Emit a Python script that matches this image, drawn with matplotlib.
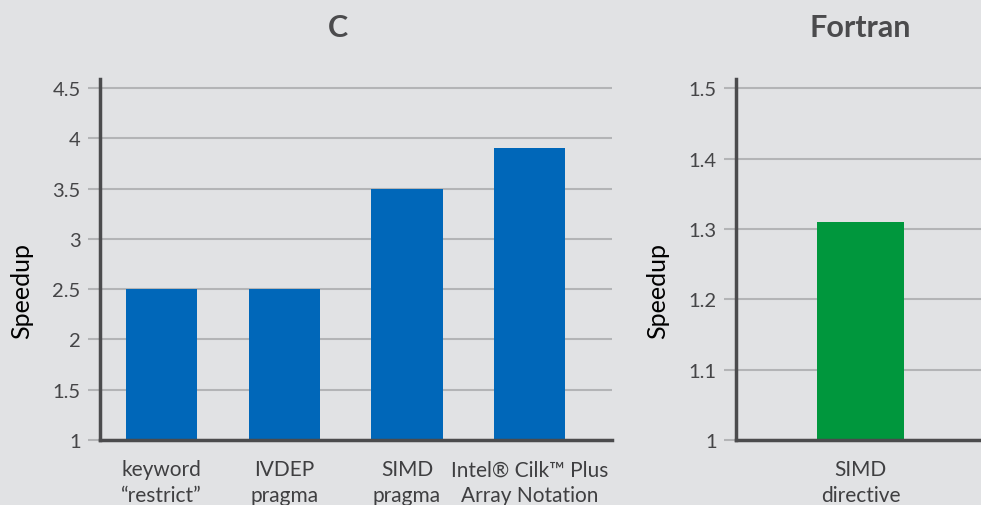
import matplotlib.pyplot as plt

# speedup per vectorization approach
c_methods = ["keyword\n\u201crestrict\u201d", "IVDEP\npragma", "SIMD\npragma",
             "Intel\u00ae Cilk\u2122 Plus\nArray Notation"]
c_speedup = [2.5, 2.5, 3.5, 3.9]
c_ticks = [1, 1.5, 2, 2.5, 3, 3.5, 4, 4.5]

fortran_methods = ["SIMD\ndirective"]
fortran_speedup = [1.31]
fortran_ticks = [1, 1.1, 1.2, 1.3, 1.4, 1.5]

bg = "#e1e2e4"
dark = "#4b4b4d"
grid = "#b3b4b6"
plt.rcParams['font.family'] = ['Lato', 'DejaVu Sans']

fig = plt.figure(figsize=(9.81, 5.06), dpi=100, facecolor=bg)
ax1 = fig.add_axes([0.1019, 0.1285, 0.522, 0.7134])
ax2 = fig.add_axes([0.7503, 0.1285, 0.2538, 0.7134])


def style(ax, ticks, top):
    ax.set_facecolor(bg)
    ax.set_ylim(1, top)
    ax.set_yticks(ticks)
    ax.set_yticklabels([f"{t:g}" for t in ticks])
    ax.yaxis.grid(True, color=grid, linewidth=1.5)
    ax.set_axisbelow(True)
    for s in ("top", "right"):
        ax.spines[s].set_visible(False)
    for s in ("left", "bottom"):
        ax.spines[s].set_color(dark)
        ax.spines[s].set_linewidth(2.5)
    ax.tick_params(axis="y", length=9, width=1.5, color=grid, pad=5,
                   labelsize=14.5, labelcolor="#454547")
    ax.tick_params(axis="x", length=0, pad=14, labelsize=15, labelcolor="#3f3f41")
    ax.set_ylabel("Speedup", fontsize=18, color="black")


style(ax1, c_ticks, 4.59)
ax1.bar(range(len(c_methods)), c_speedup, width=0.58, color="#0067b9")
ax1.set_xticks(range(len(c_methods)))
ax1.set_xticklabels(c_methods, linespacing=1.36)
ax1.set_xlim(-0.5, 3.67)
ax1.yaxis.set_label_coords(-0.131, 0.415)

style(ax2, fortran_ticks, 1.513)
ax2.bar(range(len(fortran_methods)), fortran_speedup, width=0.35, color="#00973d")
ax2.set_xticks(range(len(fortran_methods)))
ax2.set_xticklabels(fortran_methods, linespacing=1.36)
ax2.set_xlim(-0.5, 0.5)
ax2.yaxis.set_label_coords(-0.269, 0.415)

fig.text(338 / 981, 1 - 28 / 506, "C", ha="center", va="center",
         fontsize=22, fontweight="bold", color=dark)
fig.text(860 / 981, 1 - 28 / 506, "Fortran", ha="center", va="center",
         fontsize=22, fontweight="bold", color=dark)

fig.savefig("out.png", dpi=100, facecolor=bg)
